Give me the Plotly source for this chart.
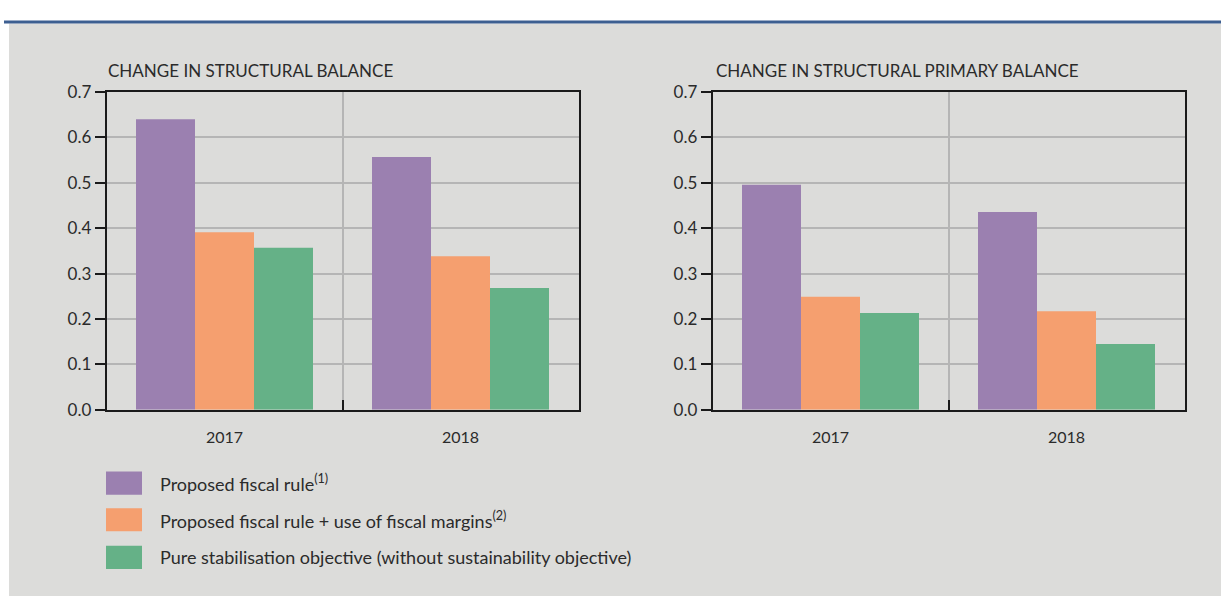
import plotly.graph_objects as go

# Data
years = ["2017", "2018"]
series_names = [
    "Proposed fiscal rule<sup>(1)</sup>",
    "Proposed fiscal rule + use of fiscal margins<sup>(2)</sup>",
    "Pure stabilisation objective (without sustainability objective)",
]
structural_balance = {
    "rule": [0.640, 0.557],
    "margins": [0.391, 0.338],
    "stabilisation": [0.357, 0.268],
}
structural_primary_balance = {
    "rule": [0.496, 0.436],
    "margins": [0.249, 0.217],
    "stabilisation": [0.213, 0.145],
}
panel_titles = ["CHANGE IN STRUCTURAL BALANCE", "CHANGE IN STRUCTURAL PRIMARY BALANCE"]
y_ticks = [0.0, 0.1, 0.2, 0.3, 0.4, 0.5, 0.6, 0.7]

colors = {"rule": "#9b80b0", "margins": "#f59f6f", "stabilisation": "#65b187"}
keys = ["rule", "margins", "stabilisation"]

W, H = 1221, 607
FONT = "Lato"
TEXT = "#2b2b2b"


def px_x(x):
    return x / W


def px_y(y):
    return 1 - y / H


fig = go.Figure()

panels = [structural_balance, structural_primary_balance]
for i, panel in enumerate(panels):
    xa = "x" if i == 0 else "x2"
    ya = "y" if i == 0 else "y2"
    for k in keys:
        fig.add_trace(go.Bar(
            x=years, y=panel[k], marker=dict(color=colors[k], line=dict(width=0)),
            xaxis=xa, yaxis=ya, showlegend=False, name=k,
        ))

plot_top, plot_bottom = 84, 413
x_domains = [(106.5, 578.5), (712.5, 1184.5)]

axis_common_x = dict(
    type="category", range=[-0.5, 1.5], tickson="boundaries", ticks="inside",
    ticklen=10, tickwidth=1.5, tickcolor="#1a1a1a", showgrid=True,
    gridcolor="#b5b5b5", gridwidth=1.5, showline=True, linecolor="#1a1a1a",
    linewidth=1.5, mirror=True, tickfont=dict(family=FONT, size=16, color=TEXT),
    ticklabelstandoff=12, fixedrange=True,
)
axis_common_y = dict(
    range=[0, 0.7], tickvals=y_ticks, tickformat=".1f", ticks="outside",
    ticklen=10, tickwidth=1.5, tickcolor="#1a1a1a", showgrid=True,
    gridcolor="#b5b5b5", gridwidth=1.5, showline=True, linecolor="#1a1a1a",
    linewidth=1.5, mirror=True, zeroline=False,
    tickfont=dict(family=FONT, size=17, color=TEXT), fixedrange=True,
)

y_dom = [px_y(plot_bottom), px_y(plot_top)]
fig.update_layout(
    width=W, height=H,
    margin=dict(l=0, r=0, t=0, b=0),
    paper_bgcolor="white", plot_bgcolor="white",
    barmode="group", bargap=0.25, bargroupgap=0,
    xaxis=dict(domain=[px_x(x_domains[0][0]), px_x(x_domains[0][1])], anchor="y", **axis_common_x),
    yaxis=dict(domain=y_dom, anchor="x", **axis_common_y),
    xaxis2=dict(domain=[px_x(x_domains[1][0]), px_x(x_domains[1][1])], anchor="y2", **axis_common_x),
    yaxis2=dict(domain=y_dom, anchor="x2", **axis_common_y),
    font=dict(family=FONT, color=TEXT),
)

shapes = [
    # grey panel background
    dict(type="rect", xref="paper", yref="paper", x0=px_x(9), x1=1, y0=px_y(606), y1=px_y(13),
         fillcolor="#dcdcda", line=dict(width=0), layer="below"),
    # blue rule along the top
    dict(type="line", xref="paper", yref="paper", x0=px_x(4), x1=1, y0=px_y(11.5), y1=px_y(11.5),
         line=dict(color="#3d5f91", width=3)),
]

annotations = []
title_x = [106, 714]
for i, t in enumerate(panel_titles):
    annotations.append(dict(
        text=t, xref="paper", yref="paper", x=px_x(title_x[i]), y=px_y(62),
        xanchor="left", yanchor="middle", showarrow=False,
        font=dict(family=FONT, size=17, color=TEXT),
    ))

# Legend drawn as boxes with labels
legend_tops = [477, 515, 554]
for k, name, top in zip(keys, series_names, legend_tops):
    shapes.append(dict(
        type="rect", xref="paper", yref="paper", x0=px_x(106), x1=px_x(142),
        y0=px_y(top + 24), y1=px_y(top), fillcolor=colors[k], line=dict(width=0),
    ))
    annotations.append(dict(
        text=name, xref="paper", yref="paper", x=px_x(158), y=px_y(top + 12),
        xanchor="left", yanchor="middle", showarrow=False,
        font=dict(family=FONT, size=18, color=TEXT),
    ))

fig.update_layout(shapes=shapes, annotations=annotations)
fig.write_html("out.html")
